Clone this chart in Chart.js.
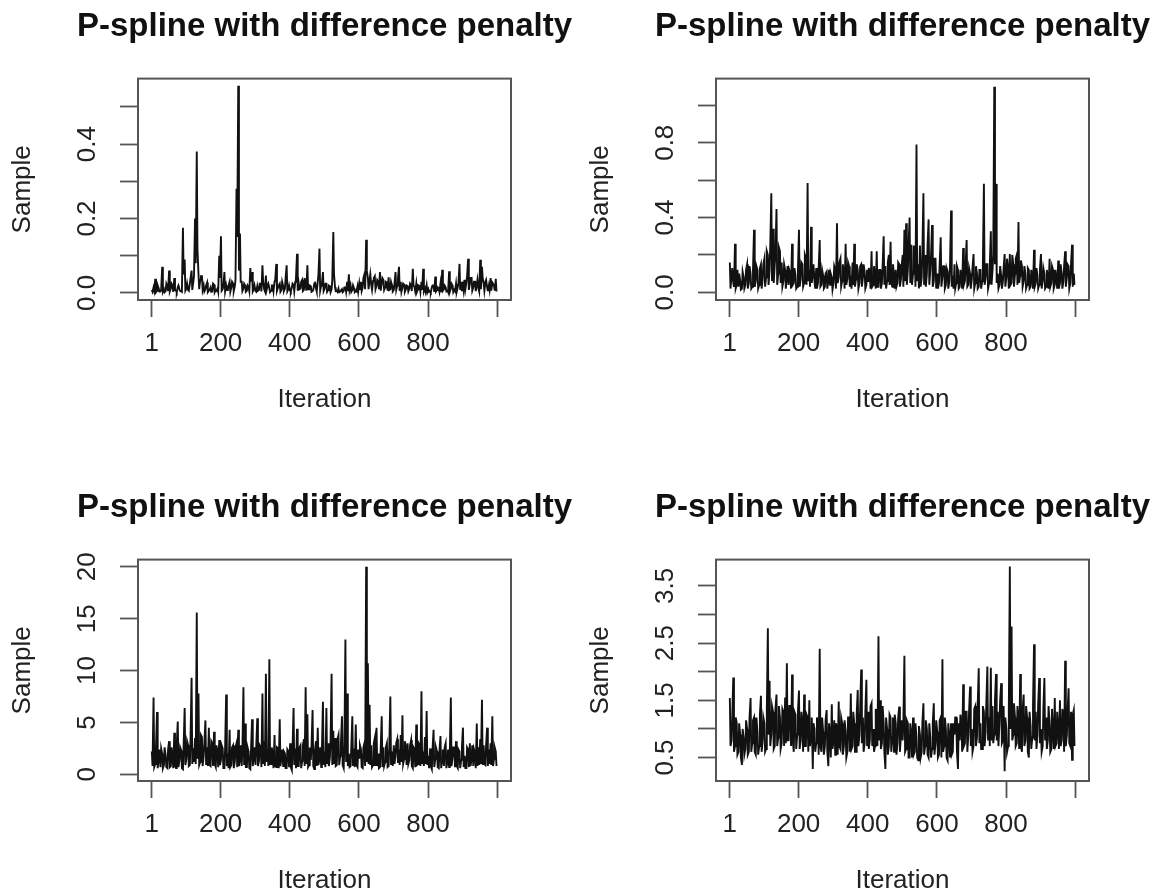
<!DOCTYPE html>
<html>
<head>
<meta charset="utf-8">
<script src="https://cdn.jsdelivr.net/npm/chart.js@4/dist/chart.umd.min.js"></script>
<style>
  html, body { margin: 0; padding: 0; background: #fff; overflow: hidden; width: 1160px; height: 890px; }
  .panel { position: absolute; width: 649px; height: 445px; }
</style>
</head>
<body>
<div class="panel" style="left:0px;top:0px"><canvas id="tl" width="649" height="445"></canvas></div>
<div class="panel" style="left:578px;top:0px"><canvas id="tr" width="649" height="445"></canvas></div>
<div class="panel" style="left:0px;top:481px"><canvas id="bl" width="649" height="445"></canvas></div>
<div class="panel" style="left:578px;top:481px"><canvas id="br" width="649" height="445"></canvas></div>

<script>
// Draws: *Values at iterations 1, 6, 11, ... 996,
// *Between at iterations 3, 8, 13, ... 998
const tlValues = [
  0.008, 0.015, 0.038, 0.006, 0.012, 0.004, 0.07, 0.01, 0.005, 0.018,
  0.06, 0.012, 0.02, 0.04, 0.006, 0.015, 0.01, 0.004, 0.175, 0.09,
  0.012, 0.008, 0.025, 0.06, 0.03, 0.2, 0.38, 0.05, 0.035, 0.045,
  0.02, 0.01, 0.028, 0.006, 0.015, 0.004, 0.022, 0.008, 0.012, 0.1,
  0.152, 0.01, 0.056, 0.02, 0.008, 0.03, 0.015, 0.025, 0.018, 0.28,
  0.557, 0.16, 0.03, 0.012, 0.02, 0.006, 0.015, 0.067, 0.056, 0.01,
  0.005, 0.018, 0.008, 0.025, 0.074, 0.01, 0.047, 0.02, 0.012, 0.006,
  0.02, 0.03, 0.078, 0.015, 0.025, 0.008, 0.018, 0.012, 0.074, 0.01,
  0.006, 0.015, 0.022, 0.03, 0.105, 0.025, 0.012, 0.035, 0.008, 0.02,
  0.074, 0.01, 0.018, 0.005, 0.025, 0.012, 0.03, 0.119, 0.02, 0.056,
  0.012, 0.025, 0.008, 0.018, 0.01, 0.164, 0.015, 0.006, 0.012, 0.004,
  0.01, 0.005, 0.015, 0.03, 0.05, 0.02, 0.008, 0.012, 0.005, 0.018,
  0.025, 0.03, 0.015, 0.05, 0.143, 0.04, 0.035, 0.02, 0.032, 0.045,
  0.02, 0.03, 0.056, 0.025, 0.035, 0.015, 0.028, 0.042, 0.01, 0.02,
  0.008, 0.056, 0.02, 0.07, 0.03, 0.015, 0.022, 0.01, 0.018, 0.012,
  0.02, 0.065, 0.015, 0.025, 0.01, 0.018, 0.03, 0.065, 0.012, 0.02,
  0.01, 0.005, 0.015, 0.02, 0.044, 0.008, 0.012, 0.025, 0.062, 0.01,
  0.015, 0.006, 0.058, 0.012, 0.02, 0.008, 0.025, 0.015, 0.078, 0.03,
  0.02, 0.035, 0.028, 0.092, 0.025, 0.04, 0.015, 0.03, 0.02, 0.012,
  0.089, 0.07, 0.025, 0.03, 0.015, 0.02, 0.04, 0.028, 0.018, 0.038
];
const tlBetween = [
  0.003, 0.006, 0.002, 0.02, 0.004, 0.008, 0.003, 0.002, 0.025, 0.005,
  0.004, 0.025, 0.003, 0.008, 0.002, 0.02, 0.005, 0.003, 0.05, 0.006,
  0.025, 0.006, 0.04, 0.008, 0.045, 0.08, 0.12, 0.01, 0.045, 0.008,
  0.004, 0.02, 0.002, 0.008, 0.003, 0.025, 0.002, 0.006, 0.003, 0.04,
  0.006, 0.02, 0.004, 0.008, 0.02, 0.003, 0.03, 0.005, 0.035, 0.15,
  0.06, 0.03, 0.005, 0.025, 0.003, 0.02, 0.005, 0.03, 0.004, 0.02,
  0.003, 0.006, 0.025, 0.004, 0.03, 0.005, 0.008, 0.025, 0.002, 0.02,
  0.005, 0.035, 0.006, 0.02, 0.003, 0.03, 0.005, 0.04, 0.004, 0.02,
  0.003, 0.025, 0.004, 0.04, 0.006, 0.01, 0.03, 0.005, 0.04, 0.006,
  0.01, 0.02, 0.003, 0.008, 0.03, 0.004, 0.05, 0.006, 0.025, 0.005,
  0.025, 0.003, 0.02, 0.002, 0.035, 0.05, 0.005, 0.003, 0.002, 0.004,
  0.002, 0.015, 0.003, 0.005, 0.008, 0.003, 0.02, 0.002, 0.004, 0.003,
  0.008, 0.005, 0.04, 0.01, 0.06, 0.01, 0.05, 0.008, 0.04, 0.01,
  0.035, 0.01, 0.006, 0.04, 0.008, 0.03, 0.006, 0.008, 0.03, 0.004,
  0.025, 0.008, 0.04, 0.005, 0.003, 0.025, 0.003, 0.02, 0.004, 0.025,
  0.005, 0.02, 0.004, 0.003, 0.02, 0.003, 0.008, 0.004, 0.003, 0.002,
  0.003, 0.002, 0.02, 0.003, 0.004, 0.015, 0.003, 0.002, 0.006, 0.02,
  0.004, 0.002, 0.003, 0.025, 0.002, 0.005, 0.003, 0.025, 0.008, 0.005,
  0.006, 0.01, 0.045, 0.008, 0.04, 0.006, 0.03, 0.005, 0.035, 0.004,
  0.01, 0.04, 0.006, 0.035, 0.005, 0.008, 0.006, 0.025, 0.006, 0.004
];

const trValues = [
  0.16, 0.09, 0.05, 0.26, 0.04, 0.03, 0.06, 0.02, 0.08, 0.04,
  0.15, 0.05, 0.1, 0.03, 0.335, 0.06, 0.12, 0.04, 0.15, 0.07,
  0.18, 0.08, 0.2, 0.12, 0.53, 0.34, 0.15, 0.445, 0.1, 0.22,
  0.16, 0.06, 0.12, 0.08, 0.04, 0.1, 0.26, 0.05, 0.09, 0.03,
  0.335, 0.07, 0.15, 0.05, 0.18, 0.585, 0.12, 0.35, 0.1, 0.06,
  0.13, 0.05, 0.28, 0.04, 0.09, 0.03, 0.11, 0.06, 0.04, 0.08,
  0.05, 0.12, 0.37, 0.08, 0.18, 0.06, 0.1, 0.26, 0.07, 0.14,
  0.09, 0.16, 0.26, 0.07, 0.12, 0.05, 0.15, 0.08, 0.11, 0.04,
  0.06, 0.1, 0.22, 0.04, 0.08, 0.22, 0.03, 0.12, 0.05, 0.3,
  0.14, 0.06, 0.2, 0.27, 0.03, 0.09, 0.12, 0.05, 0.15, 0.07,
  0.2, 0.335, 0.37, 0.12, 0.4, 0.255, 0.1, 0.22, 0.79, 0.15,
  0.25, 0.08, 0.53, 0.2, 0.1, 0.39, 0.12, 0.36, 0.06, 0.18,
  0.1, 0.05, 0.295, 0.08, 0.14, 0.04, 0.11, 0.06, 0.437, 0.09,
  0.15, 0.05, 0.12, 0.03, 0.08, 0.237, 0.06, 0.28, 0.04, 0.1,
  0.07, 0.205, 0.05, 0.1, 0.03, 0.12, 0.06, 0.58, 0.08, 0.15,
  0.05, 0.326, 0.12, 1.1, 0.58, 0.1, 0.04, 0.09, 0.06, 0.205,
  0.08, 0.12, 0.205, 0.05, 0.15, 0.1, 0.2, 0.376, 0.09, 0.14,
  0.06, 0.1, 0.04, 0.12, 0.03, 0.08, 0.228, 0.05, 0.09, 0.04,
  0.205, 0.06, 0.1, 0.03, 0.08, 0.18, 0.05, 0.12, 0.04, 0.07,
  0.17, 0.05, 0.1, 0.06, 0.22, 0.08, 0.14, 0.05, 0.255, 0.1
];
const trBetween = [
  0.02, 0.13, 0.03, 0.02, 0.12, 0.1, 0.015, 0.11, 0.02, 0.12,
  0.02, 0.14, 0.02, 0.12, 0.03, 0.14, 0.02, 0.13, 0.02, 0.15,
  0.03, 0.22, 0.04, 0.25, 0.06, 0.05, 0.2, 0.04, 0.24, 0.05,
  0.03, 0.15, 0.02, 0.14, 0.12, 0.02, 0.04, 0.13, 0.02, 0.12,
  0.03, 0.16, 0.03, 0.2, 0.04, 0.06, 0.03, 0.05, 0.15, 0.02,
  0.02, 0.13, 0.03, 0.12, 0.02, 0.1, 0.02, 0.12, 0.1, 0.015,
  0.14, 0.02, 0.05, 0.16, 0.03, 0.15, 0.02, 0.04, 0.16, 0.03,
  0.02, 0.04, 0.03, 0.15, 0.02, 0.14, 0.03, 0.15, 0.02, 0.12,
  0.13, 0.02, 0.03, 0.14, 0.02, 0.03, 0.12, 0.02, 0.14, 0.04,
  0.02, 0.16, 0.04, 0.05, 0.15, 0.02, 0.03, 0.16, 0.03, 0.14,
  0.03, 0.06, 0.04, 0.25, 0.05, 0.04, 0.25, 0.03, 0.06, 0.02,
  0.03, 0.22, 0.04, 0.03, 0.25, 0.04, 0.2, 0.03, 0.18, 0.02,
  0.02, 0.15, 0.03, 0.14, 0.02, 0.13, 0.02, 0.15, 0.03, 0.02,
  0.02, 0.14, 0.02, 0.12, 0.02, 0.04, 0.14, 0.03, 0.13, 0.02,
  0.13, 0.02, 0.14, 0.02, 0.12, 0.02, 0.15, 0.04, 0.15, 0.02,
  0.14, 0.04, 0.2, 0.15, 0.05, 0.02, 0.14, 0.02, 0.13, 0.03,
  0.18, 0.02, 0.04, 0.2, 0.03, 0.18, 0.04, 0.05, 0.17, 0.03,
  0.14, 0.02, 0.13, 0.02, 0.12, 0.02, 0.03, 0.13, 0.02, 0.12,
  0.02, 0.13, 0.02, 0.12, 0.02, 0.03, 0.14, 0.02, 0.12, 0.02,
  0.02, 0.15, 0.02, 0.14, 0.03, 0.15, 0.02, 0.15, 0.03, 0.04
];

const blValues = [
  2.2, 7.4, 1.0, 6.0, 1.5, 0.7, 2.0, 0.9, 1.8, 0.6,
  3.2, 0.8, 1.6, 4.0, 0.6, 5.1, 1.4, 2.3, 0.5, 6.4,
  1.5, 2.8, 0.9, 9.3, 2.5, 3.5, 15.6, 7.8, 1.2, 3.6,
  1.8, 5.2, 2.6, 4.5, 0.8, 3.0, 4.1, 0.7, 2.2, 3.3,
  1.4, 2.5, 0.6, 7.7, 2.0, 4.3, 0.9, 2.8, 1.2, 3.0,
  4.3, 1.5, 0.8, 8.4, 4.9, 0.7, 2.2, 0.5, 5.3, 1.6,
  0.9, 5.4, 1.3, 2.6, 7.8, 3.2, 9.7, 2.4, 11.1, 1.0,
  1.8, 3.8, 0.7, 2.5, 5.3, 1.6, 0.8, 2.0, 0.6, 2.2,
  3.0, 0.4, 6.4, 2.5, 4.4, 0.8, 2.8, 1.3, 3.4, 8.4,
  5.8, 0.9, 1.4, 6.2, 0.5, 3.2, 4.5, 1.5, 0.7, 7.0,
  2.2, 6.4, 3.0, 1.6, 9.7, 4.2, 3.5, 0.9, 3.8, 1.8,
  5.6, 0.6, 13.0, 7.8, 2.0, 0.8, 5.6, 2.5, 4.8, 0.7,
  1.6, 2.4, 0.6, 3.0, 20.0, 10.7, 6.7, 2.8, 0.9, 3.5,
  4.5, 2.0, 0.7, 5.6, 2.6, 1.2, 3.0, 0.8, 7.5, 2.2,
  2.8, 1.8, 3.4, 2.4, 3.8, 5.7, 1.5, 2.6, 3.0, 1.4,
  3.3, 0.6, 2.4, 4.8, 1.0, 2.8, 8.0, 2.2, 3.6, 6.1,
  1.8, 2.5, 0.5, 4.3, 1.5, 2.2, 0.6, 3.7, 1.4, 0.8,
  3.0, 1.2, 0.7, 7.4, 1.6, 2.6, 3.2, 0.6, 2.2, 1.4,
  4.5, 1.8, 0.6, 2.4, 3.0, 1.5, 0.8, 2.0, 4.9, 2.6,
  3.4, 7.2, 2.8, 0.9, 4.5, 2.4, 3.0, 5.6, 1.5, 2.2
];
const blBetween = [
  0.8, 0.7, 2.6, 0.6, 2.4, 2.5, 0.6, 2.6, 0.7, 2.4,
  0.7, 2.6, 0.6, 0.8, 2.8, 0.7, 2.6, 0.6, 2.8, 0.9,
  3.2, 0.8, 3.5, 1.0, 1.2, 1.0, 1.5, 0.9, 3.8, 0.8,
  3.0, 0.9, 0.8, 0.9, 3.2, 0.8, 1.0, 2.8, 0.7, 0.9,
  2.8, 0.6, 2.5, 0.8, 0.6, 0.7, 2.6, 0.6, 2.6, 0.7,
  0.8, 2.8, 2.4, 0.9, 0.7, 2.6, 0.6, 2.4, 0.8, 2.6,
  2.6, 0.8, 2.8, 0.7, 1.0, 0.8, 1.2, 0.8, 1.0, 2.6,
  0.6, 0.8, 2.6, 0.6, 0.8, 2.4, 2.2, 0.6, 2.4, 0.7,
  0.7, 2.4, 0.9, 0.6, 0.8, 2.6, 0.6, 2.8, 0.8, 1.0,
  0.7, 2.6, 2.8, 0.8, 2.4, 0.8, 0.9, 2.6, 2.4, 0.9,
  0.7, 1.0, 0.8, 3.2, 0.9, 1.0, 0.8, 3.4, 0.9, 3.0,
  0.9, 2.8, 1.2, 0.8, 0.7, 2.6, 0.8, 0.7, 0.9, 2.4,
  2.8, 0.7, 2.6, 0.8, 1.2, 1.0, 0.9, 0.7, 3.0, 0.8,
  0.8, 0.6, 2.4, 0.7, 0.8, 2.6, 0.7, 2.8, 0.9, 0.8,
  1.0, 3.0, 1.1, 0.9, 1.2, 1.0, 3.2, 0.9, 1.0, 2.8,
  0.8, 2.6, 0.7, 0.9, 3.0, 0.8, 1.0, 0.8, 1.0, 0.9,
  0.6, 0.8, 2.4, 0.7, 2.6, 0.7, 2.2, 0.6, 2.4, 2.6,
  0.6, 2.4, 2.2, 0.8, 2.6, 0.7, 0.8, 2.4, 0.6, 2.6,
  0.7, 0.6, 2.6, 0.7, 0.8, 2.8, 2.4, 0.6, 0.8, 0.9,
  1.0, 0.9, 1.0, 2.8, 0.8, 1.0, 0.9, 0.8, 2.6, 0.8
];

const brValues = [
  1.54, 0.8, 1.9, 0.7, 1.1, 0.6, 0.9, 0.37, 0.85, 0.65,
  1.0, 0.6, 1.54, 0.75, 1.2, 0.55, 0.95, 0.7, 1.58, 0.8,
  1.1, 0.65, 2.76, 1.84, 0.9, 1.3, 0.7, 1.6, 0.85, 1.2,
  0.75, 1.3, 1.55, 2.15, 0.8, 1.4, 1.95, 0.6, 1.25, 0.9,
  1.67, 0.8, 1.1, 1.6, 0.7, 1.2, 1.5, 0.9, 0.3, 1.0,
  0.75, 1.1, 2.4, 0.6, 0.95, 0.7, 1.33, 0.35, 0.9, 1.43,
  0.8, 0.55, 1.0, 1.48, 0.65, 1.1, 0.7, 0.95, 0.6, 1.2,
  1.62, 0.7, 1.1, 0.6, 1.68, 0.9, 2.04, 1.2, 0.75, 1.86,
  1.3, 0.8, 1.45, 1.0, 0.7, 1.25, 2.62, 1.5, 0.75, 1.1,
  0.3, 1.0, 0.7, 1.2, 0.85, 0.6, 1.1, 0.75, 1.39, 0.9,
  0.8, 2.28, 0.65, 1.1, 0.5, 0.9, 1.2, 0.6, 0.85, 0.45,
  0.9, 0.6, 1.45, 0.7, 1.0, 0.5, 0.85, 0.65, 1.45, 0.75,
  0.95, 0.55, 1.2, 2.22, 0.7, 1.0, 0.45, 0.85, 1.1, 0.6,
  0.9, 1.2, 0.3, 0.8, 1.1, 1.78, 0.75, 1.3, 0.9, 1.74,
  1.0, 0.7, 1.4, 0.85, 2.06, 1.1, 0.65, 1.3, 0.95, 2.09,
  1.2, 2.07, 1.4, 0.9, 1.96, 1.3, 1.1, 1.8, 0.8, 0.26,
  1.0, 0.7, 3.84, 2.79, 0.9, 1.2, 0.75, 1.1, 1.96, 0.6,
  1.6, 0.8, 1.2, 0.5, 1.05, 0.85, 2.48, 1.3, 0.9, 1.89,
  1.0, 0.7, 1.89, 1.2, 0.8, 1.1, 0.65, 0.95, 1.54, 0.75,
  1.0, 1.5, 0.8, 1.2, 2.19, 0.9, 1.71, 0.7, 0.46, 1.33
];
const brBetween = [
  0.7, 1.2, 0.6, 1.2, 0.55, 1.1, 0.5, 1.0, 0.55, 1.15,
  0.55, 1.2, 0.6, 1.15, 0.6, 1.2, 0.55, 1.25, 0.6, 1.2,
  0.6, 1.3, 0.9, 0.7, 1.4, 0.65, 1.35, 0.7, 1.4, 0.65,
  1.35, 0.7, 0.75, 0.8, 1.4, 0.7, 0.8, 1.3, 0.65, 1.3,
  0.65, 1.3, 0.6, 0.7, 1.25, 0.6, 0.7, 1.2, 1.1, 0.6,
  1.2, 0.55, 0.7, 1.2, 0.55, 1.15, 0.6, 1.1, 0.5, 0.65,
  1.15, 1.1, 0.55, 0.7, 1.2, 0.55, 1.15, 0.5, 1.2, 0.6,
  0.65, 1.3, 0.6, 1.25, 0.7, 1.35, 0.75, 0.6, 1.3, 0.7,
  0.65, 1.4, 0.7, 0.6, 1.35, 0.7, 0.8, 0.65, 1.4, 0.6,
  1.2, 0.55, 1.25, 0.6, 1.2, 1.25, 0.55, 1.2, 0.6, 1.15,
  1.1, 0.6, 1.15, 0.5, 1.1, 0.5, 0.55, 1.1, 0.5, 1.05,
  0.5, 1.1, 0.55, 1.15, 0.55, 1.1, 0.5, 1.1, 0.55, 1.15,
  0.5, 1.15, 0.5, 0.6, 1.2, 0.5, 1.1, 0.5, 0.55, 1.1,
  1.2, 0.6, 1.1, 1.25, 0.6, 0.7, 1.3, 0.6, 1.3, 0.7,
  0.6, 1.35, 0.7, 1.4, 0.75, 0.65, 1.4, 0.7, 1.45, 0.8,
  0.7, 0.8, 0.75, 1.5, 0.8, 0.7, 1.5, 0.75, 1.4, 1.2,
  0.6, 1.3, 1.0, 0.8, 1.45, 0.7, 1.4, 0.65, 0.7, 1.35,
  0.7, 1.4, 0.6, 1.3, 0.65, 1.4, 0.8, 0.65, 1.45, 0.75,
  0.6, 1.35, 0.8, 0.65, 1.4, 0.6, 1.35, 0.65, 0.7, 1.3,
  0.65, 0.7, 1.35, 0.6, 0.7, 1.3, 0.75, 1.3, 1.25, 0.7
];

// iteration numbers of the two interleaved sets of draws
const iterations = tlValues.flatMap((_, i) => [1 + 5 * i, 3 + 5 * i]);

const xTicks = [1, 200, 400, 600, 800, 1000];
const xLabels = ['1', '200', '400', '600', '800', ''];

const tlTicks = [0, 0.1, 0.2, 0.3, 0.4, 0.5];
const tlLabels = ['0.0', '', '0.2', '', '0.4', ''];
const trTicks = [0, 0.2, 0.4, 0.6, 0.8, 1.0];
const trLabels = ['0.0', '', '0.4', '', '0.8', ''];
const blTicks = [0, 5, 10, 15, 20];
const blLabels = ['0', '5', '10', '15', '20'];
const brTicks = [0.5, 1, 1.5, 2, 2.5, 3, 3.5];
const brLabels = ['0.5', '', '1.5', '', '2.5', '', '3.5'];

const titleText = 'P-spline with difference penalty';

Chart.defaults.font.family = "'Liberation Sans', Arial, sans-serif";
Chart.defaults.color = '#222';

// R style box around the plot region
const boxPlugin = {
    id: 'plotBox',
    afterDraw(chart) {
        const { ctx, chartArea: a } = chart;
        ctx.save();
        ctx.strokeStyle = '#555';
        ctx.lineWidth = 2;
        ctx.strokeRect(a.left, a.top, a.right - a.left, a.bottom - a.top);
        ctx.restore();
    }
};

function makeTrace(id, values, between, yMin, yMax, yTicks, yLabels, labelPad) {
    const series = values.flatMap((v, i) => [v, between[i]]);
    new Chart(document.getElementById(id), {
        type: 'line',
        data: {
            labels: iterations,
            datasets: [{
                data: series,
                xAxisID: 'x',
                yAxisID: 'y',
                borderColor: '#111',
                borderWidth: 1.9,
                pointRadius: 0,
                tension: 0,
                fill: false
            }]
        },
        options: {
            responsive: false,
            animation: false,
            events: [],
            layout: { padding: 0 },
            plugins: {
                legend: { display: false },
                tooltip: { enabled: false },
                title: {
                    display: true,
                    text: titleText,
                    color: '#111',
                    font: { size: 33, weight: 'bold', lineHeight: 1.2 },
                    padding: { top: 7, bottom: 32 }
                }
            },
            scales: {
                x: {
                    type: 'linear',
                    min: -39,
                    max: 1040,
                    afterBuildTicks: s => { s.ticks = xTicks.map(v => ({ value: v })); },
                    afterFit: s => { s.height = 145; },
                    grid: { drawOnChartArea: false, drawTicks: true, tickLength: 17, tickWidth: 1.8, tickColor: '#555' },
                    border: { display: false },
                    ticks: {
                        autoSkip: false,
                        maxRotation: 0,
                        padding: 11,
                        color: '#222',
                        font: { size: 26 },
                        callback: (v, i) => xLabels[i]
                    },
                    title: {
                        display: true,
                        text: 'Iteration',
                        color: '#222',
                        font: { size: 26 },
                        padding: { top: 0, bottom: 30 }
                    }
                },
                y: {
                    type: 'linear',
                    position: 'left',
                    min: yMin,
                    max: yMax,
                    afterBuildTicks: s => { s.ticks = yTicks.map(v => ({ value: v })); },
                    afterFit: s => { s.width = 138; },
                    grid: { drawOnChartArea: false, drawTicks: true, tickLength: 18, tickWidth: 1.8, tickColor: '#555' },
                    border: { display: false },
                    ticks: {
                        autoSkip: false,
                        minRotation: 90,
                        maxRotation: 90,
                        crossAlign: 'center',
                        padding: labelPad,
                        color: '#222',
                        font: { size: 26 },
                        callback: (v, i) => yLabels[i]
                    },
                    title: {
                        display: true,
                        text: 'Sample',
                        color: '#222',
                        font: { size: 26 },
                        padding: { top: 7, bottom: 0 }
                    }
                },
                // empty right margin so the title centres over the plot box
                yr: {
                    type: 'linear',
                    position: 'right',
                    display: true,
                    afterFit: s => { s.width = 138; },
                    grid: { display: false },
                    border: { display: false },
                    ticks: { display: false }
                }
            }
        },
        plugins: [boxPlugin]
    });
}

makeTrace('tl', tlValues, tlBetween, -0.019, 0.576, tlTicks, tlLabels, 14);
makeTrace('tr', trValues, trBetween, -0.041, 1.143, trTicks, trLabels, 14);
makeTrace('bl', blValues, blBetween, -0.64, 20.7, blTicks, blLabels, 18);
makeTrace('br', brValues, brBetween, 0.09, 3.96, brTicks, brLabels, 14);
</script>
</body>
</html>
